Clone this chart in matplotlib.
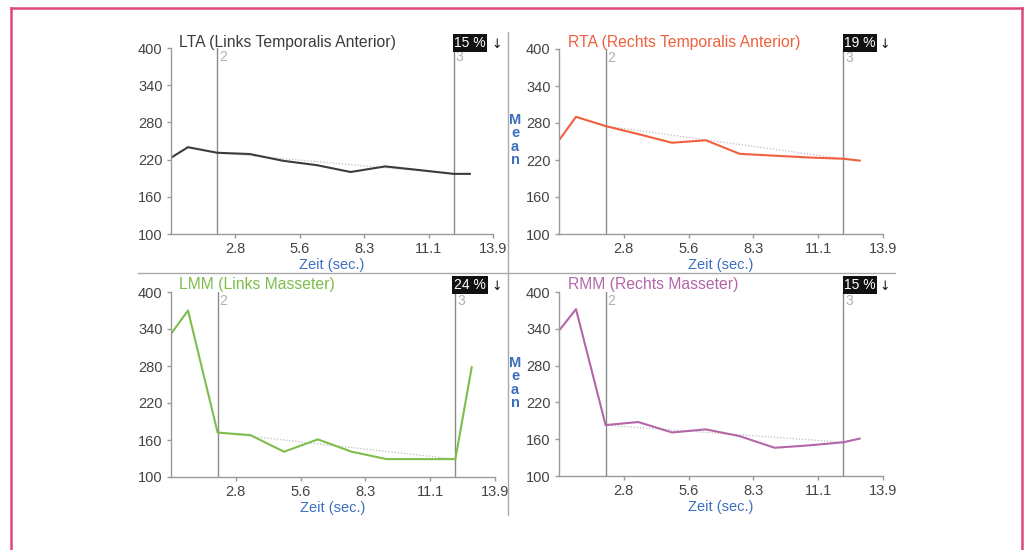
import matplotlib
matplotlib.use("Agg")
import matplotlib.pyplot as plt
from matplotlib.lines import Line2D

# ---------------- data ----------------
times = [0, 0.73, 2.0, 3.4, 4.85, 6.3, 7.75, 9.25, 10.75, 12.2, 12.9]
lta = [223, 240, 231, 229, 218, 211, 200, 209, 203, 197, 197]
rta = [252, 290, 275, 262, 248, 252, 230, 227, 224, 222, 219]
lmm = [332, 370, 172, 168, 141, 161, 141, 129, 129, 129, 278]
rmm = [337, 372, 183, 188, 171, 176, 165, 146, 150, 155, 161]

titles = ["LTA (Links Temporalis Anterior)", "RTA (Rechts Temporalis Anterior)",
          "LMM (Links Masseter)", "RMM (Rechts Masseter)"]
percents = ["15 %", "19 %", "24 %", "15 %"]
trend_start = [231, 275, 172, 183]
trend_end = [197, 222, 129, 155]
marker_times = [2.0, 12.2]
marker_labels = ["2", "3"]
x_max = 13.9
x_ticks = [2.78, 5.56, 8.34, 11.12, 13.9]
x_ticklabels = ["2.8", "5.6", "8.3", "11.1", "13.9"]
y_ticks = [100, 160, 220, 280, 340, 400]

colors = ["#3c3c3c", "#f0603e", "#7dbd4c", "#b466a8"]
series = [lta, rta, lmm, rmm]

plt.rcParams["font.family"] = ["Liberation Sans", "DejaVu Sans"]

W, H = 1024, 550
fig = plt.figure(figsize=(W / 100, H / 100), dpi=100)


def rect(left, right, top, bottom):
    return [left / W, 1 - bottom / H, (right - left) / W, (bottom - top) / H]


rects = [rect(171, 493, 48, 234), rect(559, 883, 49, 234),
         rect(171, 495, 292, 477), rect(559, 883, 292, 476)]
title_pos = [(179, 43), (568, 43), (179, 285), (568, 285)]
box_pos = [(470, 43), (860, 43), (470, 285), (860, 285)]
arrow_x = [497, 885, 497, 885]

blue = "#3d6fbf"
for i in range(4):
    ax = fig.add_axes(rects[i])
    ax.set_xlim(0, x_max)
    ax.set_ylim(100, 400)
    for s in ["top", "right"]:
        ax.spines[s].set_visible(False)
    for s in ["left", "bottom"]:
        ax.spines[s].set_color("#9a9a9a")
        ax.spines[s].set_linewidth(1)
    ax.set_xticks(x_ticks)
    ax.set_xticklabels(x_ticklabels)
    ax.set_yticks(y_ticks)
    ax.tick_params(colors="#9a9a9a", labelcolor="#444444", labelsize=10.5,
                   length=3, width=1, pad=3)
    ax.set_xlabel("Zeit (sec.)", color=blue, fontsize=10.5, labelpad=1)
    # marker lines
    for mt, ml in zip(marker_times, marker_labels):
        ax.axvline(mt, color="#8a8a8a", lw=1)
        ax.text(mt + 0.08, 396, ml, color="#b0b0b0", fontsize=10, va="top", ha="left")
    # trend dotted
    ax.plot(marker_times, [trend_start[i], trend_end[i]], color="#bdbdbd",
            lw=0.9, ls=(0, (1, 1.5)))
    ax.plot(times, series[i], color=colors[i], lw=1.5)
    ax.patch.set_alpha(0)

    tx, ty = title_pos[i]
    fig.text(tx / W, 1 - ty / H, titles[i], color=colors[i], fontsize=11.3,
             ha="left", va="center")
    bx, by = box_pos[i]
    fig.text(bx / W, 1 - by / H, percents[i], color="white", fontsize=10,
             ha="center", va="center",
             bbox=dict(boxstyle="square,pad=0.12", fc="#111111", ec="none"))
    fig.text(arrow_x[i] / W, 1 - (by + 1) / H, "↓", color="#111111",
             fontsize=9, ha="center", va="center", family="DejaVu Sans")

# stacked "Mean" labels on right panels
for cy in [140, 383]:
    fig.text(515 / W, 1 - cy / H, "M\ne\na\nn", color=blue, fontsize=10.5,
             ha="center", va="center", linespacing=0.95, fontweight="bold")

# separators
fig.add_artist(Line2D([508 / W, 508 / W], [1 - 32 / H, 1 - 515 / H],
                      color="#aaaaaa", lw=1))
fig.add_artist(Line2D([138 / W, 895 / W], [1 - 273 / H, 1 - 273 / H],
                      color="#aaaaaa", lw=1))

# pink frame
pink = "#e0487c"
fig.add_artist(Line2D([11 / W, 11 / W], [0, 1 - 8 / H], color=pink, lw=1.8))
fig.add_artist(Line2D([11 / W, 1022 / W], [1 - 8 / H, 1 - 8 / H], color=pink, lw=1.8))
fig.add_artist(Line2D([1022 / W, 1022 / W], [1 - 8 / H, 0], color=pink, lw=1.8))

fig.savefig("out.png", dpi=100)
